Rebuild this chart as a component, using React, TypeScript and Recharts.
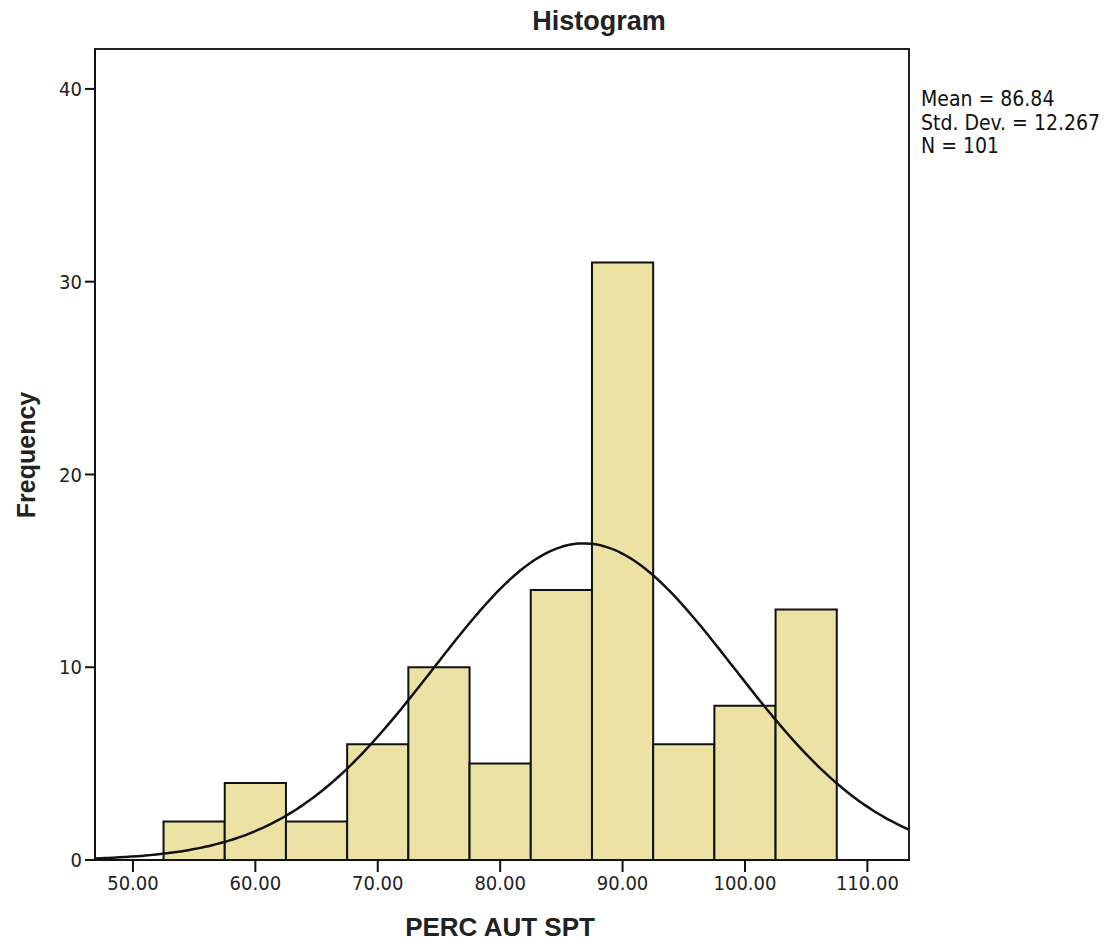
import { ComposedChart, Line, ReferenceArea, XAxis, YAxis } from "recharts";

// histogram bins (width 5) and their frequencies
const binStarts = [52.5, 57.5, 62.5, 67.5, 72.5, 77.5, 82.5, 87.5, 92.5, 97.5, 102.5];
const binCounts = [2, 4, 2, 6, 10, 5, 14, 31, 6, 8, 13];
const binWidth = 5;

const xTicks = [50, 60, 70, 80, 90, 100, 110];
const yTicks = [0, 10, 20, 30, 40];

const stats = { mean: 86.84, sd: 12.267, n: 101 };

const X_MIN = 46.9;
const X_MAX = 113.4;
const Y_MAX = 42.07;

// fitted normal curve, scaled to counts per bin
const curve: { x: number; y: number }[] = [];
for (let x = X_MIN; x <= X_MAX + 0.001; x += 0.5) {
  const z = (x - stats.mean) / stats.sd;
  const y = (stats.n * binWidth * Math.exp(-0.5 * z * z)) / (stats.sd * Math.sqrt(2 * Math.PI));
  curve.push({ x: Number(x.toFixed(2)), y });
}

const font = "'Liberation Sans', Arial, sans-serif";
const tickFont = "'DejaVu Sans Condensed', 'Liberation Sans', sans-serif";

export default function App() {
  return (
    <div style={{ position: "absolute", left: 0, top: 0, width: 1105, height: 945, background: "#fff", fontFamily: font }}>
      <ComposedChart
        width={1105}
        height={945}
        data={curve}
        margin={{ top: 49, right: 196, bottom: 45, left: 55 }}
      >
        <XAxis
          dataKey="x"
          type="number"
          domain={[X_MIN, X_MAX]}
          ticks={xTicks}
          allowDataOverflow
          height={40}
          tickSize={12}
          tickMargin={4}
          tickFormatter={(v) => Number(v).toFixed(2)}
          tick={{ fill: "#222", fontSize: 20, fontFamily: tickFont }}
          axisLine={{ stroke: "#111", strokeWidth: 2 }}
          tickLine={{ stroke: "#111", strokeWidth: 2 }}
        />
        <YAxis
          type="number"
          domain={[0, Y_MAX]}
          ticks={yTicks}
          allowDataOverflow
          width={40}
          tickSize={10}
          tickMargin={3}
          tick={{ fill: "#222", fontSize: 20, fontFamily: tickFont }}
          axisLine={{ stroke: "#111", strokeWidth: 2 }}
          tickLine={{ stroke: "#111", strokeWidth: 2 }}
        />
        {binStarts.map((start, i) => (
          <ReferenceArea
            key={start}
            x1={start}
            x2={start + binWidth}
            y1={0}
            y2={binCounts[i]}
            fill="#ece2a4"
            fillOpacity={1}
            stroke="#111"
            strokeWidth={2}
            ifOverflow="visible"
          />
        ))}
        <ReferenceArea
          x1={X_MIN}
          x2={X_MAX}
          y1={0}
          y2={Y_MAX}
          fill="none"
          stroke="#222"
          strokeWidth={2}
          ifOverflow="visible"
        />
        <Line
          dataKey="y"
          type="monotone"
          stroke="#111"
          strokeWidth={2.5}
          dot={false}
          activeDot={false}
          isAnimationActive={false}
        />
      </ComposedChart>

      <div style={{ position: "absolute", left: 0, width: 1198, top: 6, textAlign: "center", fontSize: 27, fontWeight: "bold", color: "#222" }}>
        Histogram
      </div>
      <div
        style={{
          position: "absolute",
          left: 26,
          top: 455,
          transform: "translate(-50%, -50%) rotate(-90deg)",
          fontSize: 25,
          fontWeight: "bold",
          color: "#222",
          whiteSpace: "nowrap",
        }}
      >
        Frequency
      </div>
      <div style={{ position: "absolute", left: 0, width: 1000, top: 912, textAlign: "center", fontSize: 26, fontWeight: "bold", color: "#222" }}>
        PERC AUT SPT
      </div>
      <div style={{ position: "absolute", left: 921, top: 88, fontSize: 21, lineHeight: "23.5px", color: "#111", fontFamily: tickFont }}>
        <div>Mean = {stats.mean.toFixed(2)}</div>
        <div>Std. Dev. = {stats.sd.toFixed(3)}</div>
        <div>N = {stats.n}</div>
      </div>
    </div>
  );
}
